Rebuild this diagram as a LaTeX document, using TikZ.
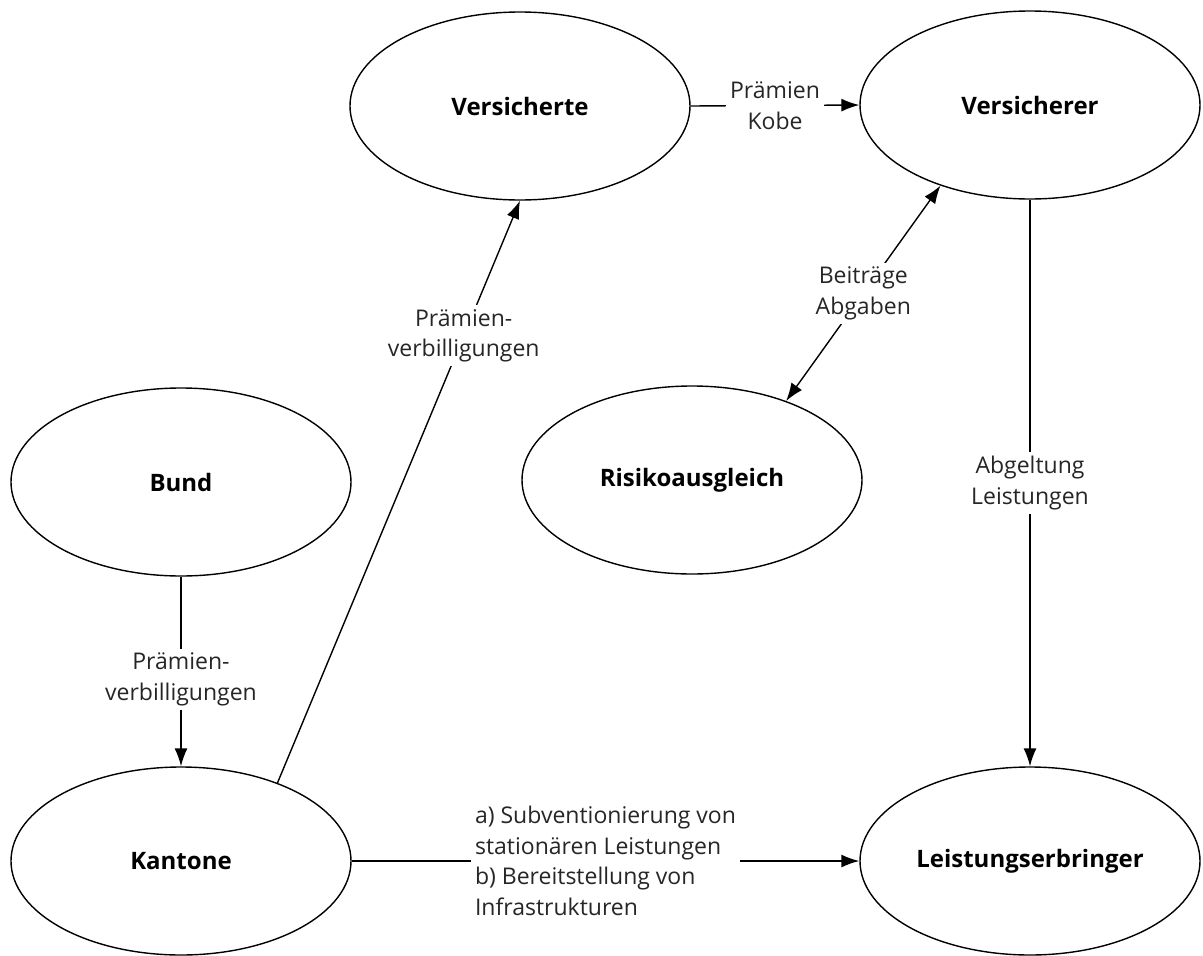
\documentclass[tikz,border=0pt]{standalone}
\usepackage{fontspec}
\setmainfont{Open Sans}
\usetikzlibrary{arrows.meta,shapes.geometric}
\begin{document}
\begin{tikzpicture}[x=1pt,y=-1pt,
  ent/.style={ellipse,draw,line width=1.4pt,minimum width=340pt,minimum height=188pt,inner sep=0pt,
    font=\fontsize{24}{30}\selectfont\bfseries},
  lab/.style={fill=white,inner sep=4pt,align=center,text=black!85,
    font=\fontsize{23}{30.5}\selectfont},
  conn/.style={line width=1.4pt,-{Latex[length=18pt,width=13pt]}},
  bi/.style={line width=1.4pt,{Latex[length=18pt,width=13pt]}-{Latex[length=18pt,width=13pt]}}
]
\useasboundingbox (0,0) rectangle (1203,956);
\node[ent] (vte) at (520,106) {Versicherte};
\node[ent] (vrer) at (1030,105) {Versicherer};
\node[ent] (bund) at (181,482) {Bund};
\node[ent] (risk) at (692,480) {Risikoausgleich};
\node[ent] (kant) at (181,861) {Kantone};
\node[ent] (lerb) at (1030,861) {Leistungserbringer};

\draw[conn] (vte.east) -- node[lab] {Prämien\\Kobe} (vrer.west);
\draw[conn] (bund.south) -- node[lab,pos=0.54] {Prämien-\\verbilligungen} (kant.north);
\draw[conn] (kant.39) -- node[lab,pos=0.768] {Prämien-\\verbilligungen} (vte.south);
\draw[bi] (risk.40.6) -- node[lab] {Beiträge\\Abgaben} (vrer.222);
\draw[conn] (vrer.south) -- node[lab] {Abgeltung\\Leistungen} (lerb.north);
\draw[conn] (kant.east) -- node[lab,align=left] {a) Subventionierung von\\stationären Leistungen\\b) Bereitstellung von\\Infrastrukturen} (lerb.west);
\end{tikzpicture}
\end{document}
